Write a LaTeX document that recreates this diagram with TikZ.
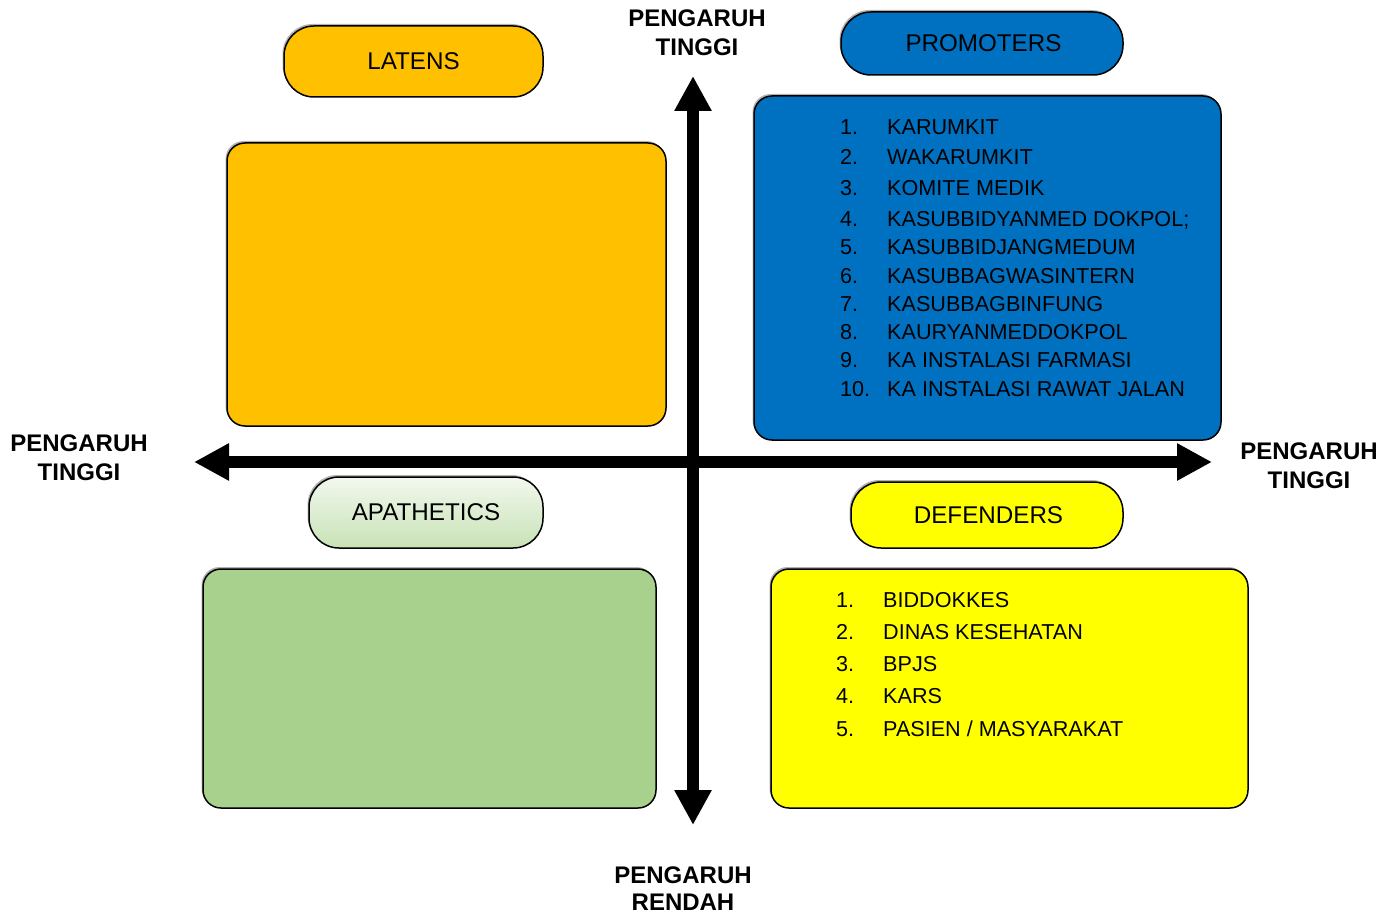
\documentclass[tikz,border=0pt]{standalone}
\usepackage{fontspec}
\setmainfont{Liberation Sans}
\usetikzlibrary{arrows.meta,shadows}
\definecolor{latentfill}{HTML}{FFC000}
\definecolor{promofill}{HTML}{0070C0}
\definecolor{apafill}{HTML}{A9D18E}
\definecolor{apatop}{HTML}{F2F8EE}
\definecolor{apabot}{HTML}{C8E2B6}
\definecolor{deffill}{HTML}{FFFF00}
\begin{document}
\begin{tikzpicture}[x=1pt,y=-1pt,
  softshadow/.style={drop shadow={shadow xshift=-1.5pt,shadow yshift=2pt,fill=black,opacity=.3}},
  pill/.style={draw=black,line width=1.5pt,rounded corners=30pt,softshadow,
    font=\fontsize{24.2}{28}\selectfont},
  bigbox/.style={draw=black,line width=1.5pt,rounded corners=18pt,softshadow},
  axislabel/.style={align=center,font=\fontsize{24}{29}\selectfont\bfseries},
  axisarrow/.style={line width=12pt,
    {Triangle[length=35pt,width=35pt]}-{Triangle[length=35pt,width=35pt]}},
  item/.style={anchor=base west,inner sep=0pt,font=\fontsize{21.6}{25}\selectfont}]
\useasboundingbox (0,0) rectangle (1395,915);

% quadrant boxes
\node[bigbox,fill=latentfill,minimum width=439pt,minimum height=283pt] (latbox) at (446.5,284.5) {};
\node[bigbox,fill=promofill,minimum width=467pt,minimum height=344pt] (probox) at (987.5,268) {};
\node[bigbox,fill=apafill,minimum width=453pt,minimum height=239pt] (apabox) at (429.5,688.5) {};
\node[bigbox,fill=deffill,minimum width=477pt,minimum height=239pt] (defbox) at (1009.5,688.5) {};

% quadrant titles
\node[pill,fill=latentfill,minimum width=259pt,minimum height=71pt] (lat) at (413.5,61.5) {LATENS};
\node[pill,fill=promofill,minimum width=282pt,minimum height=63pt,text depth=0pt] (pro) at (982,43.5) {\hspace*{3pt}PROMOTERS};
\node[pill,top color=apatop,bottom color=apabot,minimum width=234pt,minimum height=71pt] (apa) at (426,512.5) {APATHETICS};
\node[pill,fill=deffill,minimum width=272pt,minimum height=66pt] (def) at (987,515) {\hspace*{3pt}DEFENDERS};

% axes
\coordinate (vtop) at (693,76);
\coordinate (vbot) at (693,825);
\coordinate (hleft) at (194,462);
\coordinate (hright) at (1212,462);
\draw[axisarrow] (vbot) -- (vtop);
\draw[axisarrow] (hleft) -- (hright);

\node[axislabel] (ltop) at (697,33) {PENGARUH\\TINGGI};
\node[axislabel] (lleft) at (79,457.5) {PENGARUH\\TINGGI};
\node[axislabel] (lright) at (1309,465.5) {PENGARUH\\TINGGI};
\node[axislabel,font=\fontsize{24}{27}\selectfont\bfseries] (lbot) at (683,888.5) {PENGARUH\\RENDAH};

% promoters list
\foreach \n/\t/\y in {1/KARUMKIT/127,2/WAKARUMKIT/157,3/KOMITE MEDIK/188,
    4/KASUBBIDYANMED DOKPOL;/219,5/KASUBBIDJANGMEDUM/247,6/KASUBBAGWASINTERN/276,
    7/KASUBBAGBINFUNG/304,8/KAURYANMEDDOKPOL/332,9/KA INSTALASI FARMASI/360,
    10/KA INSTALASI RAWAT JALAN/389}{
  \node[item] (pn\n) at (840,\y+7.5) {\n.};
  \node[item] (pt\n) at (887,\y+7.5) {\t};
}

% defenders list
\foreach \n/\t/\y in {1/BIDDOKKES/600,2/DINAS KESEHATAN/632,3/BPJS/664,
    4/KARS/696,5/{PASIEN / MASYARAKAT}/729}{
  \node[item] (dn\n) at (836,\y+7.5) {\n.};
  \node[item] (dt\n) at (883,\y+7.5) {\t};
}
\end{tikzpicture}
\end{document}
